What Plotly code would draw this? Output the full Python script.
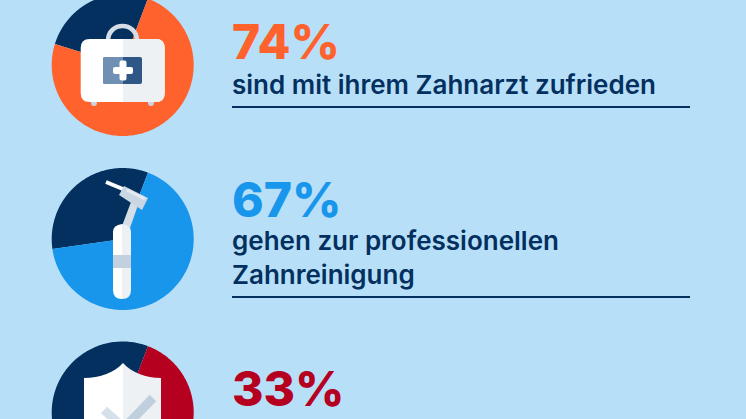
import numpy as np
import plotly.graph_objects as go

# Werte aus dem Bild
prozent = [74, 67, 33]
prozent_text = ['74%', '67%', '33%']
farben = ['#FF622D', '#1896EC', '#B5001F']
texte = ['sind mit ihrem Zahnarzt zufrieden',
         'gehen zur professionellen<br>Zahnreinigung',
         '']

HINTERGRUND = '#B8DFF8'
NAVY = '#03305F'
WEISS = '#FFFFFF'
GRAU = '#EDF1F3'
START = 20.8


def keil(cx, cy, r, von, bis):
    # Winkel im Uhrzeigersinn ab 12 Uhr, y-Achse zeigt nach unten
    w = np.radians(np.linspace(von, bis, 180))
    x = np.concatenate([[cx], cx + r * np.sin(w), [cx]])
    y = np.concatenate([[cy], cy - r * np.cos(w), [cy]])
    return x, y


def form(pfad, farbe, linie=None, breite=0):
    return dict(type='path', path=pfad, xref='x', yref='y', layer='above',
                fillcolor=farbe if linie is None else 'rgba(0,0,0,0)',
                line=dict(color=linie, width=breite))


def box(x0, y0, x1, y1, farbe):
    return form(f'M{x0},{y0} L{x1},{y0} L{x1},{y1} L{x0},{y1} Z', farbe)


def rund(x0, y0, x1, y1, r, farbe):
    return form(f'M{x0+r},{y0} L{x1-r},{y0} Q{x1},{y0} {x1},{y0+r} L{x1},{y1-r} '
                f'Q{x1},{y1} {x1-r},{y1} L{x0+r},{y1} Q{x0},{y1} {x0},{y1-r} '
                f'L{x0},{y0+r} Q{x0},{y0} {x0+r},{y0} Z', farbe)


fig = go.Figure()

# Kreise
mitten_y = [65, 239, 412.5]
for p, farbe, cy in zip(prozent, farben, mitten_y):
    ende = START + p * 3.6
    x, y = keil(122.7, cy, 71, ende, START + 360)
    fig.add_trace(go.Scatter(x=x, y=y, fill='toself', fillcolor=NAVY, mode='none', hoverinfo='skip'))
    x, y = keil(122.7, cy, 71, START, ende)
    fig.add_trace(go.Scatter(x=x, y=y, fill='toself', fillcolor=farbe, mode='none', hoverinfo='skip'))

shapes = []

# Koffer
shapes += [
    form('M108,41 C108,21 137,21 137,41', None, '#D5DEE6', 4.5),
    dict(type='circle', xref='x', yref='y', layer='above', x0=91, y0=99, x1=97, y1=106,
         fillcolor='#C9D6E2', line=dict(width=0)),
    dict(type='circle', xref='x', yref='y', layer='above', x0=148, y0=99, x1=154, y1=106,
         fillcolor='#C9D6E2', line=dict(width=0)),
    rund(80.7, 39, 164.7, 102, 9, WEISS),
    form('M123,39 L156,39 Q164.7,39 164.7,48 L164.7,93 Q164.7,102 156,102 L123,102 Z', GRAU),
    rund(103, 57, 142, 84, 2, '#2E5687'),
    form('M123,57 L105,57 Q103,57 103,59 L103,82 Q103,84 105,84 L123,84 Z', '#6F8FB3'),
    rund(113, 67, 133, 74, 2, WEISS),
    rund(119.5, 60.5, 126.5, 80.5, 2, WEISS),
]

# Handstueck
shapes += [
    form('M122,226 L131,202 L138,205 L130,228 Z', '#D5DEE6'),
    form('M106,182 L124,189.5', None, WEISS, 4),
    form('M124,186 L148,198 L142,210 L119,195 Z', '#C9D6E3'),
    form('M127,190 L145,199', None, '#E4EAF0', 3),
    form('M113,232 Q113,225 122,224 L122,299 Q113,299 113,290 Z', WEISS),
    form('M122,224 Q131,225 131,232 L131,290 Q131,299 122,299 Z', GRAU),
    box(113, 255, 131, 268, '#C3D0DF'),
]

# Schild
shapes += [
    form('M123,363 C115,372 100,378 84,378 L84,430 L123,430 Z', WEISS),
    form('M123,363 C131,372 146,378 161,378 L161,430 L123,430 Z', GRAU),
    form('M104,410 L124,428', None, '#D5E0EA', 9),
    form('M124,428 L153,398', None, '#C0CFDD', 9),
]

# Trennlinien
for y in [107, 297]:
    shapes.append(dict(type='line', xref='x', yref='y', x0=232, x1=690, y0=y, y1=y,
                       line=dict(color=NAVY, width=2)))

annotations = []
for t, farbe, y in zip(prozent_text, farben, [41.5, 199.5, 388.5]):
    annotations.append(dict(x=230, y=y, xref='x', yref='y', text=t, showarrow=False,
                            xanchor='left', yanchor='middle',
                            font=dict(family='Inter', size=48, color=farbe, weight=800)))

annotations.append(dict(x=230, y=84, xref='x', yref='y', text=texte[0], showarrow=False,
                        xanchor='left', yanchor='middle',
                        font=dict(family='Inter', size=26, color=NAVY, weight=600)))
annotations.append(dict(x=230, y=257, xref='x', yref='y', text=texte[1], showarrow=False,
                        xanchor='left', yanchor='middle', align='left',
                        font=dict(family='Inter', size=26, color=NAVY, weight=600)))

fig.update_layout(
    width=746, height=419,
    margin=dict(l=0, r=0, t=0, b=0),
    paper_bgcolor=HINTERGRUND,
    plot_bgcolor=HINTERGRUND,
    showlegend=False,
    shapes=shapes,
    annotations=annotations,
    xaxis=dict(range=[0, 746], visible=False, fixedrange=True),
    yaxis=dict(range=[419, 0], visible=False, fixedrange=True),
)

fig.write_html("out.html", config=dict(displayModeBar=False),
               post_script="document.body.style.margin='0';document.body.style.overflow='hidden';")
